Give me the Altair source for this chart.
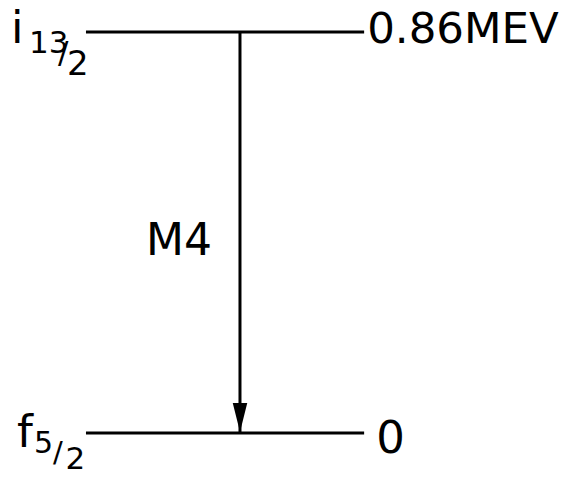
import altair as alt
import pandas as pd

# ---- data -------------------------------------------------------------
orbital = ["i", "f"]            # orbital letter of each level
spin_num = ["13", "5"]          # spin numerator
spin_den = ["2", "2"]           # spin denominator
energy_mev = [0.86, 0.0]        # level energy (MeV)
energy_label = ["0.86MEV", "0"]
transition_from = [0.86]
transition_to = [0.0]
transition_label = ["M4"]

# ---- layout -----------------------------------------------------------
W, H = 553, 461
FONT = "DejaVu Sans"
LINE_X0, LINE_X1, ARROW_X = 0.141, 0.644, 0.4195

levels = pd.DataFrame({
    "idx": [0, 1],
    "orbital": orbital,
    "num": spin_num,
    "den": spin_den,
    "E": energy_mev,
    "label": energy_label,
})
trans = pd.DataFrame({"E1": transition_from, "E2": transition_to,
                      "label": transition_label})

xs = alt.Scale(domain=[0, 1], range=[0, 553])
ys = alt.Scale(domain=[0, 0.86], range=[425, 24])


def X(v):
    return alt.X(datum=v, type="quantitative", scale=xs, axis=None)


Y = alt.Y("E:Q", scale=ys, axis=None)

base = alt.Chart(levels)

lines = base.mark_rule(color="black", strokeWidth=3).encode(
    x=X(LINE_X0), x2=alt.X2(datum=LINE_X1), y=Y)

arrow = alt.Chart(trans).mark_rule(color="black", strokeWidth=3).encode(
    x=X(ARROW_X), y=alt.Y("E1:Q", scale=ys, axis=None), y2="E2:Q")

head = alt.Chart(trans).mark_point(
    shape="M-0.5,-1L0.5,-1L0,1Z", filled=True, size=841, color="black",
    opacity=1, strokeWidth=0, yOffset=-15.5).encode(
    x=X(ARROW_X), y=alt.Y("E2:Q", scale=ys, axis=None))

mid = alt.Chart(trans).transform_calculate(
    mid="(datum.E1 + datum.E2) / 2").mark_text(
    font=FONT, fontSize=44, align="right", baseline="alphabetic",
    dx=-28, dy=22.5, color="black").encode(
    x=X(ARROW_X), y=alt.Y("mid:Q", scale=ys, axis=None), text="label:N")


def txt(i, field, anchor, size, dx, dy):
    return base.transform_filter(alt.datum.idx == i).mark_text(
        font=FONT, fontSize=size, align="left", baseline="alphabetic",
        dx=dx, dy=dy, color="black").encode(
        x=X(anchor), y=Y, text=f"{field}:N")


def slash(i, size, dx, dy):
    return base.transform_filter(alt.datum.idx == i).mark_text(
        font=FONT, fontSize=size, align="left", baseline="alphabetic",
        dx=dx, dy=dy, color="black", text="/").encode(x=X(LINE_X0), y=Y)


texts = [
    # energy labels
    txt(0, "label", LINE_X1, 43.5, 3, 11),
    txt(1, "label", LINE_X1, 45, 12, 20),
    # upper level spin label
    txt(0, "orbital", LINE_X0, 45, -75, 11),
    txt(0, "num", LINE_X0, 31, -57, 21),
    slash(0, 31, -28, 31),
    txt(0, "den", LINE_X0, 34, -19, 43),
    # lower level spin label
    txt(1, "orbital", LINE_X0, 45, -69, 14),
    txt(1, "num", LINE_X0, 30, -52, 20),
    slash(1, 29, -33, 29),
    txt(1, "den", LINE_X0, 31, -20.5, 36),
]

chart = alt.layer(lines, arrow, head, mid, *texts).properties(
    width=W, height=H, padding=0, autosize="none", background="white"
).configure_view(stroke=None)

chart.save("out.html", embed_options={"renderer": "svg", "actions": False})
